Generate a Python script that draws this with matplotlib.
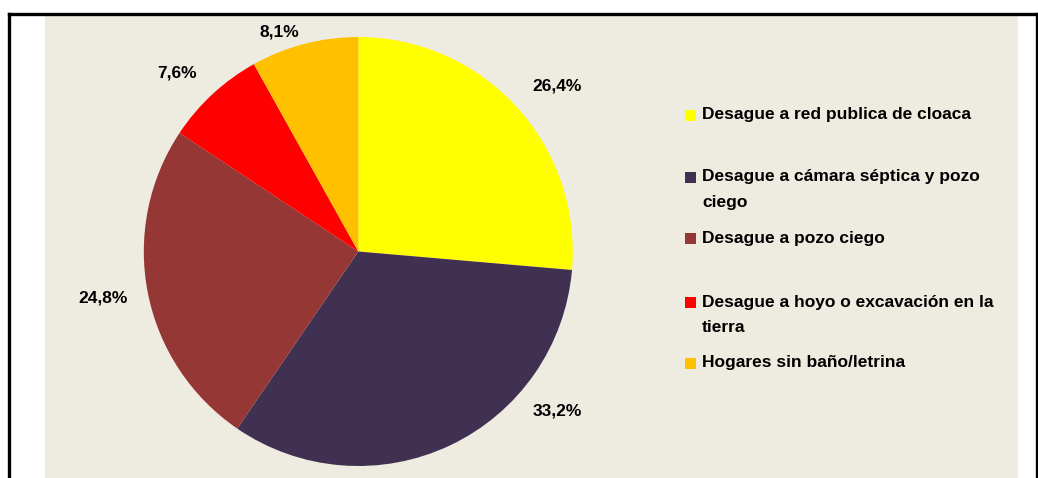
import matplotlib
matplotlib.use("Agg")
import matplotlib.pyplot as plt
from matplotlib.patches import Rectangle

# data
categories = [
    "Desague a red publica de cloaca",
    "Desague a cámara séptica y pozo\nciego",
    "Desague a pozo ciego",
    "Desague a hoyo o excavación en la\ntierra",
    "Hogares sin baño/letrina",
]
values = [26.4, 33.2, 24.8, 7.6, 8.1]
colors = ["#FFFF00", "#403152", "#953735", "#FF0000", "#FFC000"]

# label positions in pie radius units (Excel "best fit")
label_pos = [(0.925, 0.77), (0.93, -0.745), (-1.19, -0.215), (-0.847, 0.83), (-0.37, 1.025)]

W, H = 1038, 478
plt.rcParams["font.family"] = ["Liberation Sans Narrow", "Liberation Sans", "DejaVu Sans"]
fig = plt.figure(figsize=(W / 100, H / 100), dpi=100)
fig.patch.set_facecolor("white")

# chart area background and outer border
fig.patches.append(Rectangle((45 / W, 0), (1018 - 45) / W, (H - 15) / H,
                             transform=fig.transFigure, facecolor="#EEECE1",
                             edgecolor="none", zorder=0))
fig.add_artist(plt.Line2D([9 / W, 9 / W], [0, (H - 14) / H], color="black", lw=2.4))
fig.add_artist(plt.Line2D([9 / W, 1037 / W], [(H - 14) / H, (H - 14) / H], color="black", lw=2.4))
fig.add_artist(plt.Line2D([1036.5 / W, 1036.5 / W], [0, (H - 14) / H], color="black", lw=2.4))

# pie
cx, cy, r = 358.3, 251.5, 214.5
ax = fig.add_axes([(cx - r) / W, (H - cy - r) / H, 2 * r / W, 2 * r / H])
ax.set_zorder(3)
ax.pie(values, colors=colors, startangle=90, counterclock=False,
       wedgeprops=dict(linewidth=0))
ax.set_xlim(-1, 1)
ax.set_ylim(-1, 1)
ax.set_aspect("equal")
ax.axis("off")

for v, (x, y) in zip(values, label_pos):
    ax.text(x, y, f"{v:.1f}%".replace(".", ","), ha="center", va="center",
            fontsize=12.5, fontweight="bold", color="black", clip_on=False)

# legend (manual, Excel-like layout)
leg_y = [115, 177, 238, 302, 363]
for lab, col, y in zip(categories, colors, leg_y):
    fig.patches.append(Rectangle((685 / W, (H - y - 6) / H), 11 / W, 11 / H,
                                 transform=fig.transFigure, facecolor=col,
                                 edgecolor="none", zorder=2))
    for i, line in enumerate(lab.split("\n")):
        fig.text(702 / W, (H - y - 25 * i) / H, line, ha="left", va="center",
                 fontsize=12.5, fontweight="bold", color="black", zorder=4)

fig.savefig("out.png", dpi=100)
